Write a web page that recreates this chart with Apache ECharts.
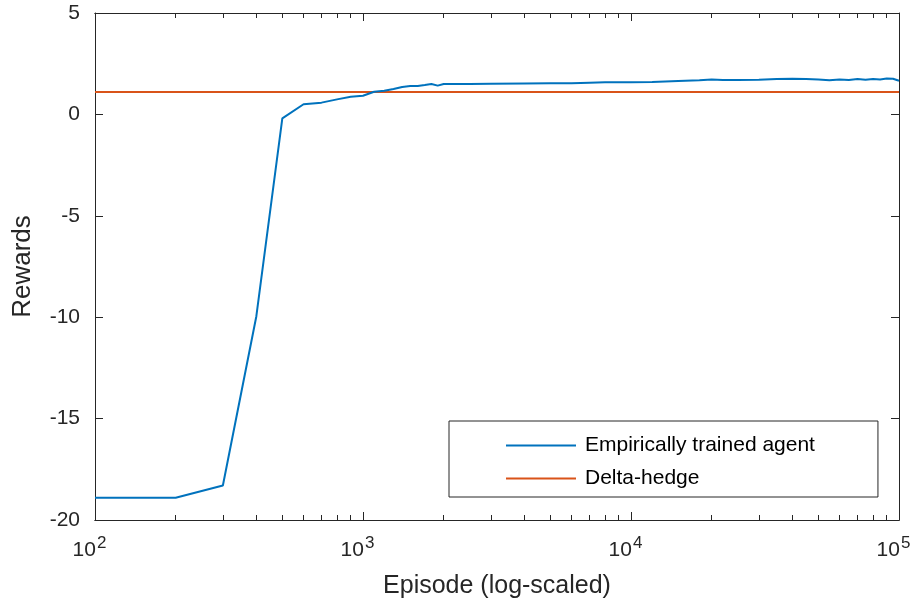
<!DOCTYPE html>
<html>
<head>
<meta charset="utf-8">
<script src="https://cdn.jsdelivr.net/npm/echarts@6/dist/echarts.min.js"></script>
<style>html,body{margin:0;padding:0;background:#fff}#c{width:919px;height:603px}</style>
</head>
<body>
<div id="c"></div>
<script>
const agentEpisodes = [100, 200, 300, 400, 500, 600, 700, 800, 900, 1000, 1100, 1200, 1300, 1400, 1500, 1600, 1700, 1800, 1900, 2000, 2500, 3000, 4000, 5000, 6000, 7000, 8000, 9000, 10000, 12000, 15000, 18000, 20000, 22000, 25000, 30000, 35000, 40000, 45000, 50000, 55000, 60000, 65000, 70000, 75000, 80000, 85000, 90000, 95000, 100000];
const agentRewards = [-18.9, -18.9, -18.3, -9.95, -0.2, 0.5, 0.58, 0.74, 0.87, 0.92, 1.12, 1.17, 1.25, 1.35, 1.4, 1.4, 1.45, 1.5, 1.42, 1.5, 1.5, 1.51, 1.52, 1.53, 1.53, 1.56, 1.58, 1.58, 1.58, 1.6, 1.65, 1.68, 1.72, 1.7, 1.7, 1.71, 1.74, 1.76, 1.75, 1.72, 1.68, 1.72, 1.7, 1.74, 1.71, 1.75, 1.72, 1.77, 1.76, 1.66];
const hedgeEpisodes = [100, 100000];
const hedgeRewards = [1.1, 1.1];
const xMajorTicks = [100, 1000, 10000, 100000];
const xMinorTicks = [200, 300, 400, 500, 600, 700, 800, 900, 2000, 3000, 4000, 5000, 6000, 7000, 8000, 9000, 20000, 30000, 40000, 50000, 60000, 70000, 80000, 90000];
const seriesNames = ['Empirically trained agent', 'Delta-hedge'];

const axisCol = '#262626';
const font = 'Liberation Sans, Arial, Helvetica, sans-serif';

function zip(a, b) { return a.map((v, i) => [v, b[i]]); }

function xAxisDef(grid, pos, ticks, len, withLabels) {
  const ax = {
    type: 'log', logBase: 10, min: 100, max: 100000, gridIndex: grid, position: pos,
    axisLine: { show: true, onZero: false, lineStyle: { color: axisCol, width: 1 } },
    splitLine: { show: false },
    axisTick: { show: true, inside: true, length: len, customValues: ticks, lineStyle: { color: axisCol } },
    axisLabel: { show: false }
  };
  if (withLabels) {
    ax.name = 'Episode (log-scaled)';
    ax.nameLocation = 'middle';
    ax.nameGap = 54;
    ax.nameTextStyle = { fontFamily: font, fontSize: 25, color: axisCol };
    ax.axisLabel = {
      show: true, margin: 15, customValues: ticks, hideOverlap: false,
      formatter: function (v) { return '{b|10}{s|' + Math.round(Math.log10(v)) + '}'; },
      rich: {
        b: { fontFamily: font, fontSize: 21, color: axisCol, verticalAlign: 'bottom', lineHeight: 26 },
        s: { fontFamily: font, fontSize: 17, color: axisCol, verticalAlign: 'top', lineHeight: 17, padding: [0, 11, 0, 1] }
      }
    };
  }
  return ax;
}

function yAxisDef(grid, pos, showTicks) {
  return {
    type: 'value', min: -20, max: 5, interval: 5, position: pos, gridIndex: grid,
    axisLine: { show: showTicks, onZero: false, lineStyle: { color: axisCol } },
    axisTick: { show: showTicks, inside: true, length: 8, lineStyle: { color: axisCol } },
    axisLabel: { show: false },
    splitLine: { show: false }
  };
}

const yLeft = yAxisDef(0, 'left', true);
yLeft.name = 'Rewards';
yLeft.nameLocation = 'middle';
yLeft.nameGap = 59;
yLeft.nameTextStyle = { fontFamily: font, fontSize: 26, color: axisCol };
yLeft.axisLabel = { show: true, fontFamily: font, fontSize: 21, color: axisCol, margin: 15 };

const gridRect = { left: 95, right: 20, top: 13, bottom: 83, containLabel: false, outerBoundsMode: 'none' };

const chart = echarts.init(document.getElementById('c'), null, { renderer: 'canvas' });
chart.setOption({
  animation: false,
  backgroundColor: '#fff',
  grid: [Object.assign({}, gridRect), Object.assign({}, gridRect)],
  legend: {
    orient: 'vertical', left: 449, top: 421,
    data: seriesNames,
    icon: 'rect', itemWidth: 70, itemHeight: 2, itemGap: 12,
    padding: [14, 63, 8, 57],
    borderColor: axisCol, borderWidth: 1, backgroundColor: '#fff',
    textStyle: { fontFamily: font, fontSize: 21, lineHeight: 21, color: '#000', padding: [0, 0, 0, 4] }
  },
  xAxis: [
    xAxisDef(0, 'bottom', xMajorTicks, 8, true),
    xAxisDef(0, 'top', xMajorTicks, 8, false),
    xAxisDef(1, 'bottom', xMinorTicks, 5, false),
    xAxisDef(1, 'top', xMinorTicks, 5, false)
  ],
  yAxis: [
    yLeft,
    yAxisDef(0, 'right', true),
    yAxisDef(1, 'left', false),
    yAxisDef(1, 'right', false)
  ],
  series: [
    {
      name: seriesNames[0], type: 'line', xAxisIndex: 0, yAxisIndex: 0,
      data: zip(agentEpisodes, agentRewards),
      showSymbol: false, symbol: 'none', z: 3,
      lineStyle: { color: '#0072BD', width: 2 }, itemStyle: { color: '#0072BD' }
    },
    {
      name: seriesNames[1], type: 'line', xAxisIndex: 0, yAxisIndex: 0,
      data: zip(hedgeEpisodes, hedgeRewards),
      showSymbol: false, symbol: 'none', z: 2,
      lineStyle: { color: '#D95319', width: 2 }, itemStyle: { color: '#D95319' }
    }
  ]
});
</script>
</body>
</html>
